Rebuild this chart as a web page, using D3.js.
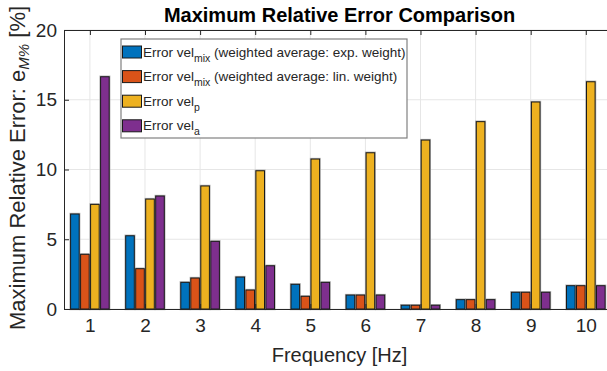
<!DOCTYPE html>
<html><head><meta charset="utf-8">
<script src="https://cdn.jsdelivr.net/npm/d3@7"></script>
<style>
html,body{margin:0;padding:0;background:#fff;overflow:hidden}
text{font-family:"Liberation Sans",Arial,Helvetica,sans-serif;fill:#262626}
</style></head>
<body><svg id="c" width="607" height="371"></svg>
<script>
const categories = [1,2,3,4,5,6,7,8,9,10];
const seriesNames = ["expMix","linMix","velP","velA"];
const expMix = [6.81,5.25,1.91,2.29,1.77,1.00,0.27,0.67,1.20,1.67];
const linMix = [3.92,2.89,2.22,1.36,0.91,1.00,0.27,0.67,1.20,1.67];
const velP   = [7.50,7.88,8.82,9.91,10.75,11.20,12.11,13.43,14.84,16.29];
const velA   = [16.65,8.10,4.85,3.10,1.91,1.00,0.27,0.67,1.20,1.67];
const colors = ["#0072BD","#D95319","#EDB120","#7E2F8E"];
const yTicks = [0,5,10,15,20];
const legendMain = ["Error vel","Error vel","Error vel","Error vel"];
const legendSub = ["mix","mix","p","a"];
const legendTail = [" (weighted average: exp. weight)"," (weighted average: lin. weight)","",""];

const seriesData = [expMix,linMix,velP,velA];
const svg = d3.select("#c");
const L=64, R=615, T=30, B=309;
const x = d3.scaleLinear().domain([0.53,10.53]).range([L,R]);
const y = d3.scaleLinear().domain([0,20]).range([B,T]);
const xSub = d3.scaleBand().domain(seriesNames).range([-19.3,19.3]).paddingInner(0.14).paddingOuter(0);

// grid
const g = svg.append("g");
g.selectAll(".gx").data(categories).join("line")
  .attr("x1",d=>x(d)).attr("x2",d=>x(d)).attr("y1",T).attr("y2",B)
  .attr("stroke","#e6e6e6").attr("stroke-width",1);
g.selectAll(".gy").data(yTicks).join("line")
  .attr("x1",L).attr("x2",R).attr("y1",d=>y(d)).attr("y2",d=>y(d))
  .attr("stroke","#e6e6e6").attr("stroke-width",1);

// bars
const flat = [];
seriesData.forEach((arr,si)=>arr.forEach((v,i)=>flat.push({c:categories[i],s:seriesNames[si],si,v})));
const bars = svg.append("g");
bars.selectAll(".halo").data(flat).join("rect")
  .attr("x",d=>x(d.c)+xSub(d.s)).attr("width",xSub.bandwidth())
  .attr("y",d=>y(d.v)).attr("height",d=>y(0)-y(d.v))
  .attr("fill","none").attr("stroke","#b5b5b5").attr("stroke-width",2.4);
bars.selectAll(".bar").data(flat).join("rect")
  .attr("x",d=>x(d.c)+xSub(d.s)).attr("width",xSub.bandwidth())
  .attr("y",d=>y(d.v)).attr("height",d=>y(0)-y(d.v))
  .attr("fill",d=>colors[d.si]).attr("stroke","#1a1a1a").attr("stroke-width",1);

// axes
const ax = svg.append("g");
const xAxisB = d3.axisBottom(x).tickValues(categories).tickSizeInner(-5).tickSizeOuter(0).tickPadding(10).tickFormat(d3.format("d"));
ax.append("g").attr("transform",`translate(0,${B})`).call(xAxisB)
  .call(s=>{s.select(".domain").attr("stroke","#262626");s.selectAll("line").attr("stroke","#262626");
    s.selectAll("text").attr("font-size",19).attr("fill","#262626");});
const xAxisT = d3.axisTop(x).tickValues(categories).tickSizeInner(-5).tickSizeOuter(0).tickFormat("");
ax.append("g").attr("transform",`translate(0,${T})`).call(xAxisT)
  .call(s=>{s.select(".domain").attr("stroke","#262626");s.selectAll("line").attr("stroke","#262626");});
const yAxis = d3.axisLeft(y).tickValues(yTicks).tickSizeInner(-5).tickSizeOuter(0).tickPadding(7).tickFormat(d3.format("d"));
ax.append("g").attr("transform",`translate(${L},0)`).call(yAxis)
  .call(s=>{s.select(".domain").attr("stroke","#262626");s.selectAll("line").attr("stroke","#262626");
    s.selectAll("text").attr("font-size",19).attr("fill","#262626");});

// title
svg.append("text").attr("x",(L+R)/2).attr("y",22).attr("text-anchor","middle")
  .attr("font-size",20).attr("font-weight","bold").style("fill","#000").text("Maximum Relative Error Comparison");
// x label
svg.append("text").attr("x",(L+R)/2).attr("y",362).attr("text-anchor","middle")
  .attr("font-size",20).text("Frequency [Hz]");
// y label
const yl = svg.append("text").attr("transform",`translate(25,168) rotate(-90)`)
  .attr("text-anchor","middle").attr("font-size",22);
yl.append("tspan").text("Maximum Relative Error: e");
yl.append("tspan").attr("font-size",15).attr("font-style","italic").attr("dy",4).text("M%");
yl.append("tspan").attr("dy",-4).text(" [%]");

// legend
const lg = svg.append("g").attr("transform","translate(121,39)");
lg.append("rect").attr("width",286).attr("height",99).attr("fill","#fff").attr("stroke","#808080").attr("stroke-width",1.2);
const rows = lg.selectAll(".row").data(seriesNames).join("g").attr("transform",(d,i)=>`translate(0,${13+i*24.6})`);
rows.append("rect").attr("x",1.5).attr("y",-6).attr("width",19).attr("height",12)
  .attr("fill",(d,i)=>colors[i]).attr("stroke","#1a1a1a").attr("stroke-width",1);
const lt = rows.append("text").attr("x",22).attr("y",4.5).attr("font-size",13.5);
lt.append("tspan").text((d,i)=>legendMain[i]);
lt.append("tspan").attr("font-size",10.5).attr("dy",5).text((d,i)=>legendSub[i]);
lt.append("tspan").attr("dy",-5).text((d,i)=>legendTail[i]);
</script></body></html>
